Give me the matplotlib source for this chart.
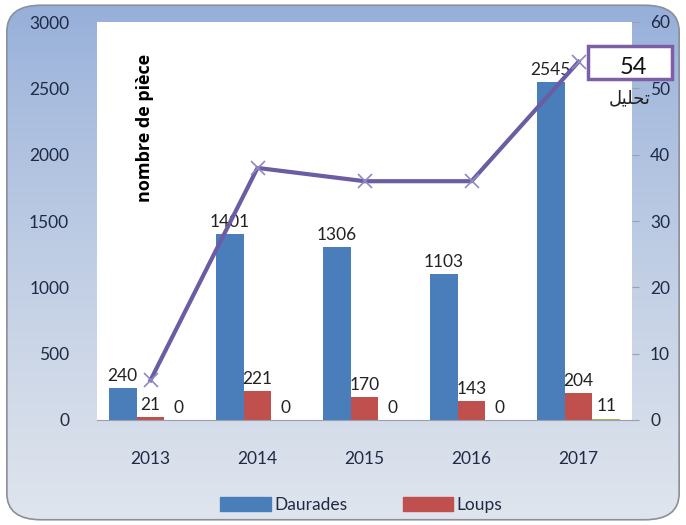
import numpy as np
import matplotlib
matplotlib.use("Agg")
import matplotlib.pyplot as plt
from matplotlib.patches import FancyBboxPatch, Rectangle, Patch

years = ["2013", "2014", "2015", "2016", "2017"]
daurades = [240, 1401, 1306, 1103, 2545]
loups = [21, 221, 170, 143, 204]
autres = [0, 0, 0, 0, 11]
analyses = [6, 38, 36, 36, 54]

plt.rcParams["font.family"] = ["Lato", "DejaVu Sans"]

fig = plt.figure(figsize=(6.86, 5.25), dpi=100)

# background gradient + rounded frame
bg = fig.add_axes([0, 0, 1, 1], zorder=-10)
grad = np.linspace(0, 1, 256).reshape(-1, 1)
top = np.array([0.58, 0.68, 0.85])
bot = np.array([0.88, 0.90, 0.93])
img = top + (bot - top) * grad[..., None] ** 0.8
img = img.reshape(256, 1, 3)
bg.imshow(img, aspect="auto", extent=[0, 1, 0, 1], origin="upper")
bg.set_xlim(0, 1)
bg.set_ylim(0, 1)
bg.axis("off")
white = Rectangle((0, 0), 1, 1, transform=bg.transAxes, color="white", zorder=0)
bg.add_patch(white)
frame = FancyBboxPatch((0.01, 0.01), 0.98, 0.98, boxstyle="round,pad=0,rounding_size=0.05",
                       transform=bg.transAxes, facecolor="none", edgecolor="#8a8f99", lw=1.2, zorder=3)
bg.add_patch(frame)
img_art = bg.images[0]
img_art.set_clip_path(frame)
img_art.set_zorder(1)

ax = fig.add_axes([97 / 686, 1 - 420 / 525, 535 / 686, 398 / 525])
ax.set_facecolor("white")
x = np.arange(len(years))
w = 0.26
b1 = ax.bar(x - w, daurades, w, color="#4a7ebb", label="Daurades")
b2 = ax.bar(x, loups, w, color="#c0504d", label="Loups")
b3 = ax.bar(x + w, autres, w, color="#9bbb59")

for bars, vals in [(b1, daurades), (b2, loups), (b3, autres)]:
    for r, v in zip(bars, vals):
        ax.annotate(str(v), (r.get_x() + r.get_width() / 2, r.get_height()),
                    xytext=(0, 3), textcoords="offset points", ha="center", va="bottom",
                    fontsize=12.5, color="#222222")

ax.set_ylim(0, 3000)
ax.set_xlim(-0.5, 4.5)
ax.set_yticks(range(0, 3001, 500))
ax.set_xticks(x)
ax.set_xticklabels(years)
ax.tick_params(axis="y", length=0, labelsize=12.5, colors="#1f2a44", pad=20)
ax.tick_params(axis="x", length=0, labelsize=12.5, colors="#1f2a44", pad=22)
for s in ["top", "right", "left"]:
    ax.spines[s].set_visible(False)
ax.spines["bottom"].set_color("#9aa0a8")

ax.text(48 / 535, (420 - 128) / 398, "nombre de pièce", transform=ax.transAxes, rotation=90,
        fontsize=13, fontweight="bold", family=["Open Sans", "DejaVu Sans"],
        ha="center", va="center", color="black")

ax2 = ax.twinx()
ax2.plot(x, analyses, color="#6b5ca3", lw=3, marker="x", markersize=10,
         markeredgecolor="#9088c4", markeredgewidth=1.2)
ax2.set_ylim(0, 60)
ax2.set_yticks(range(0, 61, 10))
ax2.tick_params(axis="y", length=5, color="#9aa0a8", labelsize=12.5, labelcolor="#1f2a44", pad=8)
for s in ["top", "right", "left", "bottom"]:
    ax2.spines[s].set_visible(False)

# callout box
fig.patches.append(Rectangle((588 / 686, 1 - 79 / 525), 84 / 686, 33 / 525, transform=fig.transFigure,
                             facecolor="white", edgecolor="#7d5fa6", lw=2.5, zorder=4))
fig.text(633 / 686, 1 - 68 / 525, "54", fontsize=17, ha="center", va="center", color="#111111",
         zorder=5)
fig.text(630 / 686, 1 - 98 / 525, "\uFEDE\uFEF4\uFEE0\uFEA4\uFE97", fontsize=13,
         family=["DejaVu Sans"], ha="center", va="center", color="#222222")

handles = [Patch(color="#4a7ebb"), Patch(color="#c0504d")]
fig.legend(handles, ["Daurades", "Loups"], loc="center", bbox_to_anchor=(0.527, 1 - 505 / 525),
           ncol=2, frameon=False, fontsize=12.5, handlelength=2.9, handleheight=0.9,
           columnspacing=3.2, handletextpad=0.2, labelcolor="#1f2a44")

fig.savefig("out.png", dpi=100)
